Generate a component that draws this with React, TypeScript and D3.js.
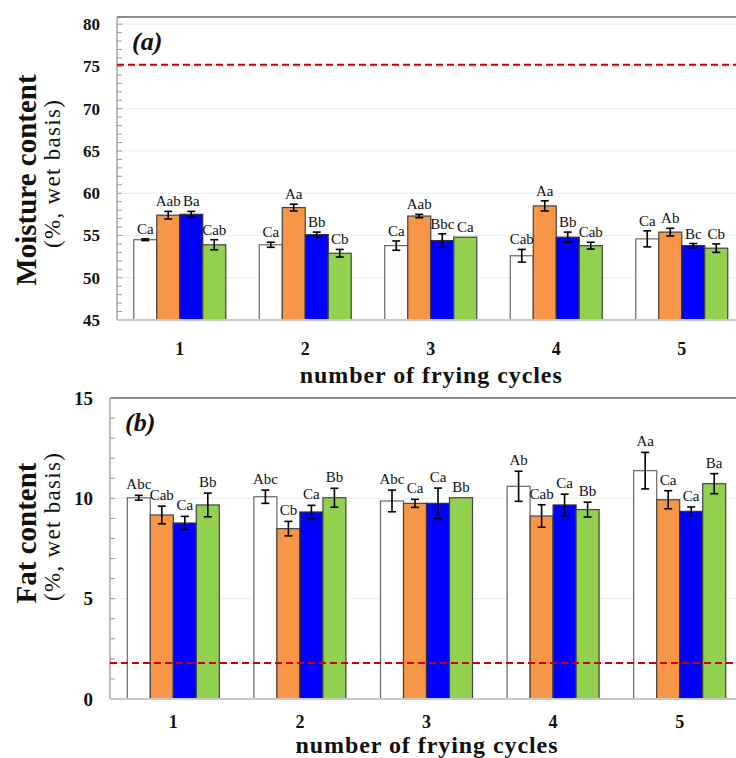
import React from "react";
import * as d3 from "d3";

// Frying cycles on the x axis
const cycles = ["1", "2", "3", "4", "5"];
// Four sample series per cycle
const seriesKeys = ["s1", "s2", "s3", "s4"];
const seriesColors = ["#FFFFFF", "#F79646", "#0000FF", "#92D050"];
const seriesStrokes = ["#666666", "#444444", "#333333", "#444444"];

// (a) Moisture content, % wet basis
const moistureMeans = [
  [54.5, 57.4, 57.5, 53.9],
  [53.9, 58.3, 55.1, 52.9],
  [53.8, 57.3, 54.4, 54.8],
  [52.6, 58.5, 54.8, 53.8],
  [54.6, 55.4, 53.8, 53.5],
];
const moistureErrors = [
  [0.1, 0.45, 0.35, 0.6],
  [0.3, 0.4, 0.3, 0.45],
  [0.55, 0.2, 0.8, 0],
  [0.75, 0.6, 0.6, 0.4],
  [0.95, 0.45, 0.25, 0.5],
];
const moistureLetters = [
  ["Ca", "Aab", "Ba", "Cab"],
  ["Ca", "Aa", "Bb", "Cb"],
  ["Ca", "Aab", "Bbc", "Ca"],
  ["Cab", "Aa", "Bb", "Cab"],
  ["Ca", "Ab", "Bc", "Cb"],
];
const moistureReference = 75.2;
const moistureTicks = [45, 50, 55, 60, 65, 70, 75, 80];

// (b) Fat content, % wet basis
const fatMeans = [
  [10.03, 9.17, 8.77, 9.67],
  [10.08, 8.49, 9.32, 10.03],
  [9.87, 9.75, 9.75, 10.03],
  [10.6, 9.12, 9.67, 9.44],
  [11.38, 9.93, 9.35, 10.73],
];
const fatErrors = [
  [0.12, 0.44, 0.33, 0.59],
  [0.33, 0.36, 0.33, 0.47],
  [0.54, 0.2, 0.76, 0],
  [0.75, 0.56, 0.54, 0.37],
  [0.91, 0.45, 0.22, 0.5],
];
const fatLetters = [
  ["Abc", "Cab", "Ca", "Bb"],
  ["Abc", "Cb", "Ca", "Bb"],
  ["Abc", "Ca", "Ca", "Bb"],
  ["Ab", "Cab", "Ca", "Bb"],
  ["Aa", "Ca", "Ca", "Ba"],
];
const fatReference = 1.8;
const fatTicks = [0, 5, 10, 15];

const SERIF = "'Liberation Serif', 'Times New Roman', serif";

type PanelProps = {
  tag: string;
  title: string;
  means: number[][];
  errors: number[][];
  letters: string[][];
  reference: number;
  ticks: number[];
  domain: [number, number];
  left: number;
  right: number;
  top: number;
  frameTop: number;
  bottom: number;
  tickFont: number;
  titleCenterY: number;
  labelGap: number;
  tickDy: number;
  xTitleDy: number;
};

function Panel(p: PanelProps) {
  const x = d3.scaleBand<string>().domain(cycles).range([p.left, p.right]);
  const groupWidth = 92;
  const xs = d3
    .scaleBand<string>()
    .domain(seriesKeys)
    .range([-groupWidth / 2, groupWidth / 2]);
  const y = d3.scaleLinear().domain(p.domain).range([p.bottom, p.top]);
  const minor = d3.range(p.domain[0], p.ticks[p.ticks.length - 1] + 0.001, 1);
  const cx = (c: string) => (x(c) as number) + x.bandwidth() / 2;
  const plotMid = (p.left + p.right) / 2;

  return (
    <g>
      {/* faint gridlines */}
      {p.ticks.slice(1).map((t) => (
        <line key={"g" + t} x1={p.left} x2={p.right} y1={y(t)} y2={y(t)} stroke="#ececec" strokeWidth={1} />
      ))}
      {/* frame */}
      <line x1={p.left} x2={p.right} y1={p.frameTop} y2={p.frameTop} stroke="#8c8c8c" strokeWidth={2} />
      <line x1={p.left} x2={p.left} y1={p.frameTop} y2={p.bottom} stroke="#a6a6a6" strokeWidth={1.5} />
      {/* inward minor ticks */}
      {minor.map((t) => (
        <line key={"m" + t} x1={p.left} x2={p.left + 5} y1={y(t)} y2={y(t)} stroke="#999" strokeWidth={1} />
      ))}
      {/* bars */}
      {cycles.map((c, i) =>
        seriesKeys.map((s, j) => {
          const bx = cx(c) + (xs(s) as number);
          const v = p.means[i][j];
          return (
            <rect
              key={c + s}
              x={bx}
              y={y(v)}
              width={xs.bandwidth()}
              height={p.bottom - y(v)}
              fill={seriesColors[j]}
              stroke={seriesStrokes[j]}
              strokeWidth={1.2}
            />
          );
        })
      )}
      {/* reference dashed line, drawn over the bars */}
      <line
        x1={p.left}
        x2={p.right}
        y1={y(p.reference)}
        y2={y(p.reference)}
        stroke="#CC0000"
        strokeWidth={2}
        strokeDasharray="7,4"
      />
      {/* error bars and letters */}
      {cycles.map((c, i) =>
        seriesKeys.map((s, j) => {
          const mx = cx(c) + (xs(s) as number) + xs.bandwidth() / 2;
          const v = p.means[i][j];
          const e = p.errors[i][j];
          const hi = y(v + e);
          const lo = y(v - e);
          return (
            <g key={"e" + c + s}>
              {e > 0 && (
                <g stroke="#000" strokeWidth={1.6}>
                  <line x1={mx} x2={mx} y1={hi} y2={lo} />
                  <line x1={mx - 4} x2={mx + 4} y1={hi} y2={hi} />
                  <line x1={mx - 4} x2={mx + 4} y1={lo} y2={lo} />
                </g>
              )}
              <text
                x={mx}
                y={hi - p.labelGap}
                textAnchor="middle"
                fontFamily={SERIF}
                fontSize={15}
                fill="#111"
              >
                {p.letters[i][j]}
              </text>
            </g>
          );
        })
      )}
      {/* x axis line */}
      <line x1={p.left} x2={p.right} y1={p.bottom} y2={p.bottom} stroke="#c8c8c8" strokeWidth={2} />
      {/* y tick labels */}
      {p.ticks.map((t) => (
        <text
          key={"t" + t}
          x={p.left - 17}
          y={y(t)}
          dy="0.35em"
          textAnchor="end"
          fontFamily={SERIF}
          fontWeight="bold"
          fontSize={p.tickFont}
          fill="#111"
        >
          {t}
        </text>
      ))}
      {/* x tick labels */}
      {cycles.map((c) => (
        <text
          key={"x" + c}
          x={cx(c)}
          y={p.bottom + p.tickDy}
          textAnchor="middle"
          fontFamily={SERIF}
          fontWeight="bold"
          fontSize={18}
          fill="#111"
        >
          {c}
        </text>
      ))}
      <text
        x={plotMid}
        y={p.bottom + p.xTitleDy}
        textAnchor="middle"
        fontFamily={SERIF}
        fontWeight="bold"
        fontSize={24}
        fill="#111"
        textLength={262}
        lengthAdjust="spacing"
      >
        number of frying cycles
      </text>
      {/* panel tag */}
      <text
        x={p.left + 15}
        y={p.frameTop + 33}
        fontFamily={SERIF}
        fontWeight="bold"
        fontStyle="italic"
        fontSize={26}
        fill="#111"
      >
        {p.tag}
      </text>
      {/* y titles */}
      <text
        transform={`translate(36,${p.titleCenterY}) rotate(-90)`}
        textAnchor="middle"
        fontFamily={SERIF}
        fontWeight="bold"
        fontSize={29}
        fill="#111"
      >
        {p.title}
      </text>
      <text
        transform={`translate(60,${p.titleCenterY - 6}) rotate(-90)`}
        textAnchor="middle"
        fontFamily={SERIF}
        fontSize={23}
        fill="#111"
        textLength={148}
        lengthAdjust="spacing"
      >
        (%, wet basis)
      </text>
    </g>
  );
}

export default function App() {
  return (
    <svg
      width={736}
      height={758}
      viewBox="0 0 736 758"
      style={{ position: "absolute", left: 0, top: 0, background: "#fff" }}
    >
      <rect width={736} height={758} fill="#fff" />
      <Panel
        tag="(a)"
        title="Moisture content"
        means={moistureMeans}
        errors={moistureErrors}
        letters={moistureLetters}
        reference={moistureReference}
        ticks={moistureTicks}
        domain={[45, 80.85]}
        left={117}
        right={744.5}
        top={17}
        frameTop={17}
        bottom={320}
        tickFont={17}
        titleCenterY={180}
        labelGap={5}
        tickDy={35}
        xTitleDy={63}
      />
      <Panel
        tag="(b)"
        title="Fat content"
        means={fatMeans}
        errors={fatErrors}
        letters={fatLetters}
        reference={fatReference}
        ticks={fatTicks}
        domain={[0, 15]}
        left={110}
        right={743}
        top={398}
        frameTop={398}
        bottom={699}
        tickFont={19}
        titleCenterY={533}
        labelGap={6}
        tickDy={29}
        xTitleDy={54}
      />
    </svg>
  );
}
